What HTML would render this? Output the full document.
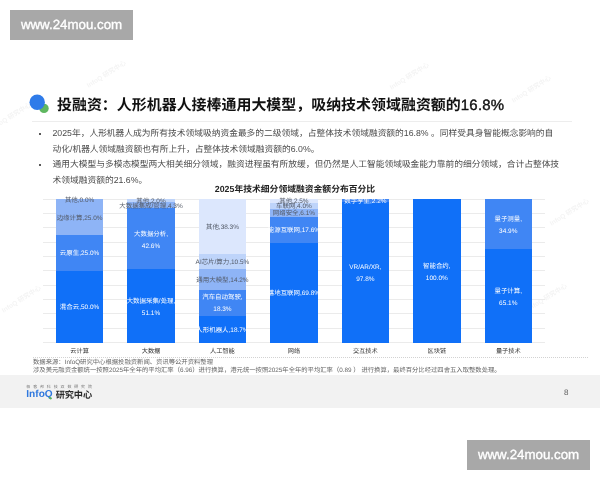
<!DOCTYPE html>
<html lang="zh">
<head>
<meta charset="utf-8">
<title>投融资</title>
<style>
html,body{margin:0;padding:0;}
body{width:600px;height:480px;position:relative;overflow:hidden;background:#fff;text-rendering:geometricPrecision;
 font-family:"Liberation Sans","Noto Sans CJK SC",sans-serif;color:#222;}
.abs{position:absolute;white-space:nowrap;}
.wm{position:absolute;width:123px;height:30px;background:#a8a8a8;color:#fff;font-family:"Liberation Sans",sans-serif;font-weight:normal;font-size:13.3px;line-height:30.8px;text-align:center;-webkit-text-stroke:0.35px #fff;}
#title{left:57px;top:93.5px;font-size:14.96px;font-weight:bold;color:#111;line-height:24px;}
#rule{position:absolute;left:32px;top:121px;width:540px;height:1px;background:#ededed;}
.body{font-size:8.74px;color:#4a4a4a;line-height:15.5px;}
.fw{position:absolute;white-space:nowrap;font-size:6.5px;font-weight:bold;color:#f4f4f4;line-height:8px;transform:translate(-50%,-50%) rotate(-32deg);}
.seg{position:absolute;}
.dot{position:absolute;width:2.4px;height:2.4px;border-radius:50%;background:#222;}
.lbl{position:absolute;white-space:nowrap;font-size:6.45px;line-height:9px;text-align:center;transform:translateX(-50%);}
.lw{color:#fff;}
.ld{color:#525966;}
.grid{position:absolute;left:43px;width:502px;height:1px;background:#ebebeb;}
.cat{position:absolute;white-space:nowrap;font-size:6.2px;color:#333;transform:translateX(-50%);top:346.9px;line-height:10px;}
#footer{position:absolute;left:0;top:375px;width:600px;height:32.5px;background:#f2f2f2;}
</style>
</head>
<body>
<div class="fw" style="left:107px;top:75px">InfoQ 研究中心</div>
<div class="fw" style="left:410px;top:77px">InfoQ 研究中心</div>
<div class="fw" style="left:532px;top:90px">InfoQ 研究中心</div>
<div class="fw" style="left:570px;top:213px">InfoQ 研究中心</div>
<div class="fw" style="left:12px;top:117px">InfoQ 研究中心</div>
<div class="fw" style="left:548px;top:298px">InfoQ 研究中心</div>
<div class="fw" style="left:22px;top:300px">InfoQ 研究中心</div>
<div class="wm" style="left:10px;top:10px;">www.24mou.com</div>

<svg class="abs" style="left:24px;top:90px" width="30" height="30" viewBox="0 0 30 30">
 <circle cx="20" cy="18.4" r="4.7" fill="#5fb760"/>
 <circle cx="13.2" cy="12.2" r="7.7" fill="#2f7be9"/>
</svg>
<div class="abs" id="title">投融资：人形机器人接棒通用大模型，吸纳技术领域融资额的<span style="font-weight:normal;-webkit-text-stroke:0.4px #111;letter-spacing:0.25px">16.8%</span></div>
<div id="rule"></div>

<div class="dot" style="left:39.1px;top:132.5px;"></div>
<div class="abs body" style="left:52.5px;top:126.3px;">2025年，人形机器人成为所有技术领域吸纳资金最多的二级领域，占整体技术领域融资额的16.8% 。同样受具身智能概念影响的自</div>
<div class="abs body" style="left:52.5px;top:141.8px;">动化/机器人领域融资额也有所上升，占整体技术领域融资额的6.0%。</div>
<div class="dot" style="left:39.1px;top:163.5px;"></div>
<div class="abs body" style="left:52.5px;top:157.3px;">通用大模型与多模态模型两大相关细分领域，融资进程虽有所放缓，但仍然是人工智能领域吸金能力靠前的细分领域，合计占整体技</div>
<div class="abs body" style="left:52.5px;top:172.8px;">术领域融资额的21.6%。</div>

<div class="abs" style="left:295px;top:183px;transform:translateX(-50%);font-size:8.8px;font-weight:bold;color:#222;line-height:12px;">2025年技术细分领域融资金额分布百分比</div>

<div id="chart">
<div class="grid" style="top:198.70px"></div>
<div class="grid" style="top:213.04px"></div>
<div class="grid" style="top:227.38px"></div>
<div class="grid" style="top:241.72px"></div>
<div class="grid" style="top:256.06px"></div>
<div class="grid" style="top:270.40px"></div>
<div class="grid" style="top:284.74px"></div>
<div class="grid" style="top:299.08px"></div>
<div class="grid" style="top:313.42px"></div>
<div class="grid" style="top:327.76px"></div>
<div class="grid" style="top:342.10px"></div>
<div class="seg" style="left:55.80px;top:270.90px;width:47.5px;height:71.70px;background:#1070f8"></div>
<div class="seg" style="left:55.80px;top:235.05px;width:47.5px;height:35.85px;background:#4086f4"></div>
<div class="seg" style="left:55.80px;top:199.20px;width:47.5px;height:35.85px;background:#8eb4f6"></div>
<div class="lbl lw" style="left:79.55px;top:303.25px;line-height:9px">混合云,50.0%</div>
<div class="lbl lw" style="left:79.55px;top:249.47px;line-height:9px">云原生,25.0%</div>
<div class="lbl ld" style="left:79.55px;top:213.62px;line-height:9px">边缘计算,25.0%</div>
<div class="lbl ld" style="left:79.55px;top:195.70px;line-height:9px">其他,0.0%</div>
<div class="cat" style="left:79.55px">云计算</div>
<div class="seg" style="left:127.25px;top:269.32px;width:47.5px;height:73.28px;background:#1070f8"></div>
<div class="seg" style="left:127.25px;top:208.23px;width:47.5px;height:61.09px;background:#4086f4"></div>
<div class="seg" style="left:127.25px;top:202.07px;width:47.5px;height:6.17px;background:#8eb4f6"></div>
<div class="seg" style="left:127.25px;top:199.20px;width:47.5px;height:2.87px;background:#bed4fa"></div>
<div class="lbl lw" style="left:151.00px;top:295.76px;line-height:12px">大数据采集/处理,<br>51.1%</div>
<div class="lbl lw" style="left:151.00px;top:228.58px;line-height:12px">大数据分析,<br>42.6%</div>
<div class="lbl ld" style="left:151.00px;top:201.65px;line-height:9px">大数据集成/管理,4.3%</div>
<div class="lbl ld" style="left:151.00px;top:197.13px;line-height:9px">其他,2.0%</div>
<div class="cat" style="left:151.00px">大数据</div>
<div class="seg" style="left:198.70px;top:315.78px;width:47.5px;height:26.82px;background:#1070f8"></div>
<div class="seg" style="left:198.70px;top:289.54px;width:47.5px;height:26.24px;background:#4086f4"></div>
<div class="seg" style="left:198.70px;top:269.18px;width:47.5px;height:20.36px;background:#8eb4f6"></div>
<div class="seg" style="left:198.70px;top:254.12px;width:47.5px;height:15.06px;background:#bed4fa"></div>
<div class="seg" style="left:198.70px;top:199.20px;width:47.5px;height:54.92px;background:#dce7fd"></div>
<div class="lbl lw" style="left:222.45px;top:325.69px;line-height:9px">人形机器人,18.7%</div>
<div class="lbl lw" style="left:222.45px;top:292.46px;line-height:12px">汽车自动驾驶,<br>18.3%</div>
<div class="lbl ld" style="left:222.45px;top:275.86px;line-height:9px">通用大模型,14.2%</div>
<div class="lbl ld" style="left:222.45px;top:258.15px;line-height:9px">AI芯片/算力,10.5%</div>
<div class="lbl ld" style="left:222.45px;top:223.16px;line-height:9px">其他,38.3%</div>
<div class="cat" style="left:222.45px">人工智能</div>
<div class="seg" style="left:270.15px;top:242.51px;width:47.5px;height:100.09px;background:#1070f8"></div>
<div class="seg" style="left:270.15px;top:217.27px;width:47.5px;height:25.24px;background:#4086f4"></div>
<div class="seg" style="left:270.15px;top:208.52px;width:47.5px;height:8.75px;background:#8eb4f6"></div>
<div class="seg" style="left:270.15px;top:202.78px;width:47.5px;height:5.74px;background:#bed4fa"></div>
<div class="seg" style="left:270.15px;top:199.20px;width:47.5px;height:3.59px;background:#dce7fd"></div>
<div class="lbl lw" style="left:293.90px;top:289.05px;line-height:9px">落地互联网,69.8%</div>
<div class="lbl lw" style="left:293.90px;top:226.39px;line-height:9px">能源互联网,17.6%</div>
<div class="lbl ld" style="left:293.90px;top:209.39px;line-height:9px">网络安全,6.1%</div>
<div class="lbl ld" style="left:293.90px;top:202.15px;line-height:9px">车联网,4.0%</div>
<div class="lbl ld" style="left:293.90px;top:197.49px;line-height:9px">其他,2.5%</div>
<div class="cat" style="left:293.90px">网络</div>
<div class="seg" style="left:341.60px;top:202.35px;width:47.5px;height:140.25px;background:#1070f8"></div>
<div class="seg" style="left:341.60px;top:199.20px;width:47.5px;height:3.15px;background:#4086f4"></div>
<div class="lbl lw" style="left:365.35px;top:262.28px;line-height:12px">VR/AR/XR,<br>97.8%</div>
<div class="lbl lw" style="left:365.35px;top:197.28px;line-height:9px">数字孪生,2.2%</div>
<div class="cat" style="left:365.35px">交互技术</div>
<div class="seg" style="left:413.05px;top:199.20px;width:47.5px;height:143.40px;background:#1070f8"></div>
<div class="lbl lw" style="left:436.80px;top:260.70px;line-height:12px">智能合约,<br>100.0%</div>
<div class="cat" style="left:436.80px">区块链</div>
<div class="seg" style="left:484.50px;top:249.25px;width:47.5px;height:93.35px;background:#1070f8"></div>
<div class="seg" style="left:484.50px;top:199.20px;width:47.5px;height:50.05px;background:#4086f4"></div>
<div class="lbl lw" style="left:508.25px;top:285.72px;line-height:12px">量子计算,<br>65.1%</div>
<div class="lbl lw" style="left:508.25px;top:214.02px;line-height:12px">量子测量,<br>34.9%</div>
<div class="cat" style="left:508.25px">量子技术</div>
</div><!--endchart-->

<div class="abs" style="left:33px;top:359.2px;font-size:6.335px;color:#666;line-height:8px;">数据来源：InfoQ研究中心根据投融资新闻、资讯等公开资料整理</div>
<div class="abs" style="left:33px;top:366.7px;font-size:6.335px;color:#666;line-height:8px;">涉及美元融资金额统一按照2025年全年的平均汇率（6.96）进行换算，港元统一按照2025年全年的平均汇率（0.89 ） 进行换算，最终百分比经过四舍五入取整数处理。</div>

<div style="position:absolute;left:33px;top:356.8px;width:555px;height:0;border-top:1px dotted #d2d2d2;"></div>
<div id="footer"></div>
<div class="abs" style="left:26.3px;top:384.2px;font-size:4px;letter-spacing:2.85px;color:#777;line-height:5px;">极客邦科技双数研究院</div>
<div class="abs" style="left:26.3px;top:387.9px;font-size:10.1px;font-weight:bold;color:#2f78de;line-height:14px;">InfoQ</div>
<div class="abs" style="left:49.2px;top:397.2px;width:2.6px;height:1.6px;background:#58b35a;border-radius:1px;transform:rotate(35deg);"></div>
<div class="abs" style="left:55.8px;top:388.4px;font-size:9.2px;font-weight:bold;color:#2a2a2a;line-height:14px;letter-spacing:-0.15px;">研究中心</div>
<div class="abs" style="left:564px;top:386.6px;font-size:8px;color:#666;line-height:12px;">8</div>

<div class="wm" style="left:467px;top:440px;">www.24mou.com</div>
</body>
</html>
